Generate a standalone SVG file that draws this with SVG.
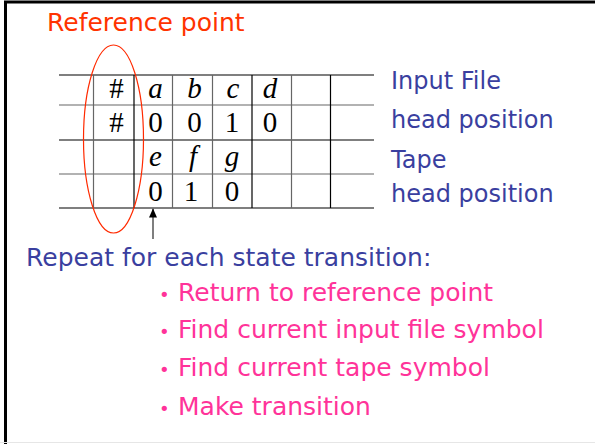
<svg xmlns="http://www.w3.org/2000/svg" width="595" height="444" viewBox="0 0 595 444">
  <style>
    .hand { font-family: "DejaVu Sans", "Noto Sans", sans-serif; font-size: 25px; }
    .side { font-size: 24px; }
    .title { fill: #ff3300; }
    .blue { fill: #3a3f9f; }
    .pink { fill: #ff3399; }
    .cell { font-family: "Liberation Serif", "DejaVu Serif", serif; font-size: 29px; fill: #000; text-anchor: middle; }
    .it { font-style: italic; }
    .hk { stroke: #000; stroke-width: 1.2; }
    .hg { stroke: #666; stroke-width: 1.2; }
  </style>
  <defs>
    <marker id="arrowHead" markerWidth="9" markerHeight="8" refX="9" refY="4" orient="auto" markerUnits="userSpaceOnUse" viewBox="0 0 9 8">
      <path d="M0,0 L9,4 L0,8 Z" fill="#000"/>
    </marker>
  </defs>

  <rect width="595" height="444" fill="#fff"/>
  <!-- frame -->
  <path d="M5.5,444 V2 H595" fill="none" stroke="#000" stroke-width="3"/>
  <line x1="0" y1="442.5" x2="595" y2="442.5" stroke="#e6e6e6" stroke-width="1"/>

  <text class="hand title" x="47" y="31">Reference point</text>

  <!-- tape grid -->
  <g id="tape-grid" fill="none">
    <line class="hk" x1="59" y1="75" x2="374" y2="75"/>
    <line class="hg" x1="59" y1="105" x2="374" y2="105"/>
    <line class="hk" x1="59" y1="140" x2="374" y2="140"/>
    <line class="hg" x1="59" y1="174" x2="374" y2="174"/>
    <line class="hk" x1="59" y1="208" x2="374" y2="208"/>
    <line class="hg" x1="93.5" y1="75" x2="93.5" y2="208"/>
    <line class="hk" x1="134" y1="75" x2="134" y2="208"/>
    <line class="hg" x1="172.5" y1="75" x2="172.5" y2="208"/>
    <line class="hg" x1="212.5" y1="75" x2="212.5" y2="208"/>
    <line class="hk" x1="252" y1="75" x2="252" y2="208"/>
    <line class="hg" x1="291.5" y1="75" x2="291.5" y2="208"/>
    <line class="hk" x1="330.5" y1="75" x2="330.5" y2="208"/>
  </g>

  <g id="tape-symbols">
    <text class="cell" x="116.5" y="98">#</text>
    <text class="cell it" x="155.5" y="98">a</text>
    <text class="cell it" x="194.5" y="98">b</text>
    <text class="cell it" x="233" y="98">c</text>
    <text class="cell it" x="270" y="98">d</text>

    <text class="cell" x="116.5" y="132">#</text>
    <text class="cell" x="155.5" y="132">0</text>
    <text class="cell" x="194.5" y="132">0</text>
    <text class="cell" x="232" y="132">1</text>
    <text class="cell" x="270" y="132">0</text>

    <text class="cell it" x="155.5" y="166">e</text>
    <text class="cell it" x="193" y="166">f</text>
    <text class="cell it" x="232" y="166">g</text>

    <text class="cell" x="155.5" y="201">0</text>
    <text class="cell" x="191" y="201">1</text>
    <text class="cell" x="232" y="201">0</text>
  </g>

  <!-- reference point marker -->
  <g id="reference-ellipse">
    <ellipse cx="113.5" cy="139" rx="30" ry="94" fill="none" stroke="#ff2a00" stroke-width="1.2"/>
  </g>

  <g id="connectors">
    <line x1="153" y1="239" x2="153" y2="208.5" stroke="#555" stroke-width="1.5" marker-end="url(#arrowHead)"/>
  </g>

  <g id="labels">
    <text class="hand side blue" x="391" y="89">Input File</text>
    <text class="hand side blue" x="391" y="128">head position</text>
    <text class="hand side blue" x="391" y="168">Tape</text>
    <text class="hand side blue" x="391" y="202">head position</text>
  </g>

  <text class="hand blue" x="26" y="266">Repeat for each state transition:</text>

  <g id="steps" class="hand pink">
    <text x="159" y="301" font-size="18">•</text>
    <text x="178" y="301">Return to reference point</text>
    <text x="159" y="338" font-size="18">•</text>
    <text x="178" y="338">Find current input file symbol</text>
    <text x="159" y="376" font-size="18">•</text>
    <text x="178" y="376">Find current tape symbol</text>
    <text x="159" y="415" font-size="18">•</text>
    <text x="178" y="415">Make transition</text>
  </g>
</svg>
